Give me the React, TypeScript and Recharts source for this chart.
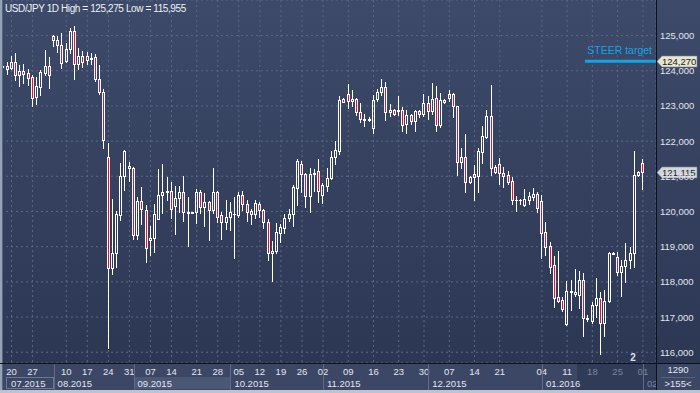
import React from "react";
import { Bar, CartesianGrid, ComposedChart, ReferenceLine, XAxis, YAxis } from "recharts";

// daily USD/JPY candles, 2015-07-16 .. 2016-02-01
const opens = [
  124094, 124131, 124084, 124254, 123886, 123980, 123923, 123829, 123252, 123536,
  123933, 124141, 124992, 124860, 124737, 124283, 124614, 125134, 124198, 124425,
  124311, 124368, 124396, 123772, 123403, 121540, 118382, 118807, 119913, 121020,
  121247, 121228, 119346, 120311, 120055, 119185, 119252, 119800, 120481, 120547,
  120594, 120159, 120396, 120566, 119970, 119968, 119989, 120547, 120140, 120263,
  120046, 120547, 119894, 119715, 119857, 119920, 119895, 120463, 120208, 120009,
  119915, 120226, 120037, 119706, 118808, 118884, 119375, 119517, 119829, 119915,
  120671, 121361, 121078, 120444, 121078, 121144, 120482, 120737, 120955, 121551,
  121721, 123205, 123328, 123149, 123205, 122837, 122610, 122600, 122373, 123187,
  123395, 123546, 122827, 122884, 122856, 122874, 122477, 122733, 122562, 122846,
  122761, 123092, 122856, 123234, 122468, 123177, 123215, 123347, 122988, 121409,
  121560, 120841, 121078, 121011, 121692, 122118, 122704, 121257, 121342, 121106,
  121030, 120860, 120316, 120318, 120179, 120340, 120416, 120510, 120293, 119404,
  119016, 118477, 117560, 117484, 116803, 117701, 117645, 117626, 118051, 116959,
  116898, 117333, 117531, 116822, 117456, 118800, 118713, 118288, 118449, 118619,
  118808, 121049, 121390,
];
const highs = [
  124169, 124245, 124406, 124491, 124150, 124188, 124056, 123867, 123819, 124027,
  124576, 124377, 125011, 124983, 125077, 124784, 125219, 125275, 124633, 124548,
  124519, 124510, 124462, 124150, 123488, 121937, 120367, 120008, 121389, 121739,
  121408, 121266, 120415, 120689, 120188, 119583, 120226, 121209, 121342, 120973,
  120831, 120717, 120727, 121011, 120405, 119975, 120651, 120604, 120528, 120292,
  121238, 120576, 119980, 120339, 120263, 120415, 120558, 120576, 120340, 120085,
  120340, 120274, 120066, 119791, 119158, 119678, 119659, 119943, 120085, 120766,
  121484, 121428, 121097, 121248, 121210, 121484, 120813, 121238, 121721, 121995,
  123281, 123224, 123612, 123442, 123224, 123083, 122780, 122685, 123300, 123489,
  123754, 123678, 123064, 122922, 123281, 122969, 122893, 122780, 122893, 122874,
  123328, 123272, 123659, 123555, 123366, 123196, 123461, 123376, 122997, 121815,
  122213, 121002, 121333, 121806, 122430, 122874, 123584, 121314, 121513, 121267,
  121144, 120983, 120435, 120368, 120633, 120558, 120662, 120567, 120463, 119697,
  119139, 118732, 118874, 117579, 118032, 118051, 118363, 118307, 118259, 117058,
  117418, 118099, 117701, 117768, 118855, 118836, 118855, 118619, 119092, 118997,
  121711, 121144, 121484,
];
const lows = [
  123753, 123914, 124056, 123725, 123573, 123649, 123602, 122997, 123063, 123299,
  123867, 123507, 124699, 124529, 124075, 124254, 124500, 123763, 124037, 124103,
  124179, 124198, 123696, 123328, 121805, 116131, 118221, 118429, 119753, 120623,
  120869, 119214, 119214, 119639, 118571, 118769, 118836, 119791, 119961, 120320,
  119819, 119365, 119980, 119743, 119015, 119962, 119687, 119970, 119592, 119195,
  119970, 119696, 119214, 119516, 119469, 118665, 119848, 120037, 119735, 119631,
  119829, 119848, 119536, 118619, 118032, 118808, 119120, 119394, 119725, 119593,
  120179, 120558, 120132, 119990, 120576, 120274, 120245, 120586, 120936, 121352,
  121626, 123111, 122941, 122988, 122733, 122543, 122430, 122572, 122231, 123139,
  123300, 122610, 122714, 122752, 122733, 122279, 122231, 122477, 122288, 122685,
  122723, 122638, 122780, 122288, 122402, 123092, 123139, 122685, 121031, 121238,
  120558, 120813, 120321, 120558, 121390, 122099, 121031, 121097, 120794, 120699,
  120775, 120208, 120009, 120208, 120151, 120208, 120321, 119990, 118685, 118761,
  118241, 117295, 117427, 117181, 116775, 117200, 117598, 117248, 116463, 116898,
  116822, 117011, 115955, 116463, 117437, 118780, 118193, 117598, 118004, 118382,
  118430, 121011, 120633,
];
const closes = [
  124122, 124056, 124254, 123886, 123980, 123914, 123800, 123233, 123555, 123952,
  124141, 123886, 124860, 124737, 124217, 124623, 125143, 124198, 124425, 124254,
  124425, 124330, 123772, 123403, 122022, 118382, 118807, 119923, 121020, 121710,
  121285, 119346, 120311, 120065, 118968, 119261, 119942, 120481, 120547, 120594,
  120084, 120396, 120566, 119999, 119999, 119972, 120547, 120140, 120263, 120046,
  120547, 119857, 119715, 119857, 119980, 119925, 120463, 120208, 119990, 119915,
  120255, 120037, 119706, 118808, 118874, 119423, 119565, 119829, 119924, 120699,
  121428, 121078, 120444, 121078, 121106, 120586, 120747, 120964, 121560, 121740,
  123177, 123120, 123139, 123205, 122837, 122619, 122638, 122638, 123177, 123395,
  123546, 122827, 122893, 122780, 122874, 122468, 122733, 122562, 122856, 122780,
  123092, 122856, 123205, 122468, 123177, 123111, 123328, 122988, 121409, 121560,
  120851, 120983, 120983, 121711, 122137, 122704, 121238, 121125, 121097, 121011,
  120841, 120321, 120326, 120324, 120349, 120435, 120510, 120104, 119394, 118997,
  118430, 117531, 117465, 117229, 117739, 117739, 117701, 118051, 116964, 116968,
  117333, 117531, 116822, 117456, 118808, 118812, 118288, 118449, 118619, 118808,
  121049, 121125, 121115,
];

const dayTicks = [2, 7, 15, 20, 25, 30, 35, 40, 46, 51, 56, 61, 66, 71, 76, 82, 88, 94, 100, 106, 112, 118, 128, 134, 140, 146, 152];
const dayLabels = ["20", "27", "10", "17", "24", "31", "07", "14", "21", "28", "05", "12", "19", "26", "02", "09", "16", "23", "30", "07", "14", "21", "04", "11", "18", "25", "01"];
const monthTicks = [0, 12, 31, 54, 76, 101, 128, 152];
const monthLabels = ["07.2015", "08.2015", "09.2015", "10.2015", "11.2015", "12.2015", "01.2016", "02"];
const priceTicks = [116000, 117000, 118000, 119000, 120000, 121000, 122000, 123000, 124000, 125000];
const steerTarget = 124270;
const lastPrice = 121115;

const data = opens.map((o, i) => ({ i, o, h: highs[i], l: lows[i], c: closes[i] }));

const FONT = '"Liberation Sans", Arial, sans-serif';
const WHITE = "#ffffff";
const RED = "#e3123c";
const LABEL = "#e2e6ee";
const DIM = "#7b869e";
const BLUE = "#13a3e6";

function Candle(props: any) {
  const { x, y, width, height, payload } = props;
  if (!payload) return null;
  const { o, h, l, c } = payload;
  const top = Math.min(y, y + height);
  const span = Math.abs(height);
  const py = (v: number) => top + ((h - v) / (h - l || 1)) * span;
  const col = Math.floor(x + width / 2);
  const wx = col + 0.5;
  const yH = Math.round(py(h));
  const yL = Math.round(py(l));
  const bT = Math.round(py(Math.max(o, c)));
  const bB = Math.round(py(Math.min(o, c)));
  if (bB - bT < 1) {
    return (
      <g shapeRendering="crispEdges">
        <line x1={wx} x2={wx} y1={yH} y2={yL + 1} stroke={WHITE} />
        <line x1={col - 1} x2={col + 2} y1={bT + 0.5} y2={bT + 0.5} stroke={WHITE} />
      </g>
    );
  }
  return (
    <g shapeRendering="crispEdges">
      {yH < bT && <line x1={wx} x2={wx} y1={yH} y2={bT} stroke={WHITE} />}
      {yL > bB && <line x1={wx} x2={wx} y1={bB + 1} y2={yL + 1} stroke={WHITE} />}
      <rect x={col - 0.5} y={bT + 0.5} width={2} height={bB - bT} fill={c >= o ? "none" : RED} stroke={WHITE} />
    </g>
  );
}

function DayTick(props: any) {
  const { x, y, payload } = props;
  const k = dayTicks.indexOf(payload.value);
  return (
    <text x={x} y={y + 12} textAnchor="middle" fontSize={9.5} fontFamily={FONT} fill={payload.value >= 140 ? DIM : LABEL}>
      {dayLabels[k]}
    </text>
  );
}

function MonthTick(props: any) {
  const { x, y, payload } = props;
  const k = monthTicks.indexOf(payload.value);
  if (k === 0) {
    return (
      <g>
        <rect x={x + 3.4} y={y - 0.5} width={47} height={11} fill="none" stroke="#6b7895" />
        <text x={x + 8} y={y + 8.5} fontSize={9.5} fontFamily={FONT} fill={LABEL}>{monthLabels[k]}</text>
      </g>
    );
  }
  const sx = Math.round(x) + 0.5;
  return (
    <g>
      <line x1={sx} x2={sx} y1={y - 15} y2={y + 12} stroke="#5f6b88" />
      <text x={x + 4} y={y + 8.5} fontSize={9.5} fontFamily={FONT} fill={k === monthTicks.length - 1 ? DIM : LABEL}>
        {monthLabels[k]}
      </text>
    </g>
  );
}

function PriceTick(props: any) {
  const { x, y, payload } = props;
  return (
    <text x={x + 4} y={y + 3.5} fontSize={9.5} fontFamily={FONT} fill={LABEL}>
      {payload.value.toLocaleString("en-US")}
    </text>
  );
}

function tag(viewBox: any, value: number, fill: string) {
  const xr = viewBox.x + viewBox.width;
  const yc = Math.round(viewBox.y) + 0.5;
  const pts = `${xr + 1},${yc} ${xr + 6},${yc - 5.5} ${xr + 41},${yc - 5.5} ${xr + 41},${yc + 5.5} ${xr + 6},${yc + 5.5}`;
  return (
    <g>
      <polygon points={pts} fill={fill} stroke="#7d838f" strokeWidth={0.6} />
      <text x={xr + 6} y={yc + 3.5} fontSize={9.5} fontFamily={FONT} fill="#1b1d22">
        {value.toLocaleString("en-US")}
      </text>
    </g>
  );
}

export default function App() {
  return (
    <div
      style={{
        position: "absolute",
        left: 0,
        top: 0,
        width: 700,
        height: 393,
        overflow: "hidden",
        background: "linear-gradient(180deg, #3d4a69 0px, #2c3754 363px, #2c3754 393px)",
        fontFamily: FONT,
      }}
    >
      {/* date strip and side panel backgrounds */}
      <div style={{ position: "absolute", left: 0, top: 363, width: 700, height: 27, background: "#3b4764" }} />
      <div style={{ position: "absolute", left: 135, top: 377, width: 95, height: 12, background: "#4a5775" }} />
      <div style={{ position: "absolute", left: 577, top: 364, width: 79, height: 26, background: "#303b57" }} />

      <div style={{ position: "absolute", left: 0, top: 0 }}>
        <ComposedChart width={700} height={393} data={data} margin={{ top: 0, right: 0, bottom: 0, left: 1 }}>
          <CartesianGrid stroke="#5a6887" strokeDasharray="2 3" />
          <XAxis
            dataKey="i"
            type="category"
            ticks={dayTicks}
            interval={0}
            height={15}
            padding={{ left: 0, right: 11 }}
            axisLine={false}
            tickLine={false}
            tickSize={0}
            tickMargin={0}
            tick={<DayTick />}
          />
          <XAxis
            xAxisId="m"
            dataKey="i"
            type="category"
            ticks={monthTicks}
            interval={0}
            height={15}
            padding={{ left: 0, right: 11 }}
            axisLine={false}
            tickLine={false}
            tickSize={0}
            tickMargin={0}
            tick={<MonthTick />}
          />
          <YAxis
            orientation="right"
            width={44}
            domain={[115695, 126010]}
            allowDataOverflow
            ticks={priceTicks}
            interval={0}
            axisLine={false}
            tickLine={false}
            tickSize={0}
            tickMargin={0}
            tick={<PriceTick />}
          />
          <Bar dataKey={(d: any) => [d.l, d.h]} shape={Candle} isAnimationActive={false} />
          <ReferenceLine
            y={steerTarget}
            shape={(p: any) => {
              const xr = Math.max(p.x1, p.x2);
              return <line x1={xr - 71} x2={xr} y1={p.y1} y2={p.y1} stroke={BLUE} strokeWidth={3} />;
            }}
            label={{
              content: (p: any) => (
                <g>
                  <text
                    x={p.viewBox.x + p.viewBox.width - 4}
                    y={p.viewBox.y - 7}
                    textAnchor="end"
                    fontSize={10.5}
                    fontFamily={FONT}
                    fill={BLUE}
                  >
                    STEER target
                  </text>
                  {tag(p.viewBox, steerTarget, "#e8e6cf")}
                </g>
              ),
            }}
          />
          <ReferenceLine
            y={lastPrice}
            shape={() => <g />}
            label={{ content: (p: any) => tag(p.viewBox, lastPrice, "#d3d6dc") }}
          />
        </ComposedChart>
      </div>

      <svg width={700} height={393} style={{ position: "absolute", left: 0, top: 0, pointerEvents: "none" }}>
        <rect x={0} y={0} width={2} height={393} fill="#96a2b6" />
        <rect x={2} y={0} width={1} height={390} fill="#56637f" />
        <rect x={0} y={390} width={700} height={3} fill="#bcc4d0" />
        <line x1={0} x2={700} y1={363.5} y2={363.5} stroke="#0c111b" />
        <line x1={656.5} x2={656.5} y1={0} y2={390} stroke="#0c111b" />
        <line x1={661} x2={695} y1={377.5} y2={377.5} stroke="#56627e" />
        <text x={5} y={12} fontSize={10} letterSpacing={-0.4} fontFamily={FONT} fill="#eef1f6">
          USD/JPY 1D  High = 125,275 Low  = 115,955
        </text>
        <text x={633} y={361} textAnchor="middle" fontSize={10} fontWeight="bold" fontFamily={FONT} fill="#dfe4ec">
          2
        </text>
        <text x={678} y={373} textAnchor="middle" fontSize={9.5} fontFamily={FONT} fill={LABEL}>
          1290
        </text>
        <text x={678} y={387} textAnchor="middle" fontSize={9.5} fontFamily={FONT} fill={LABEL}>
          {">155<"}
        </text>
      </svg>
    </div>
  );
}
